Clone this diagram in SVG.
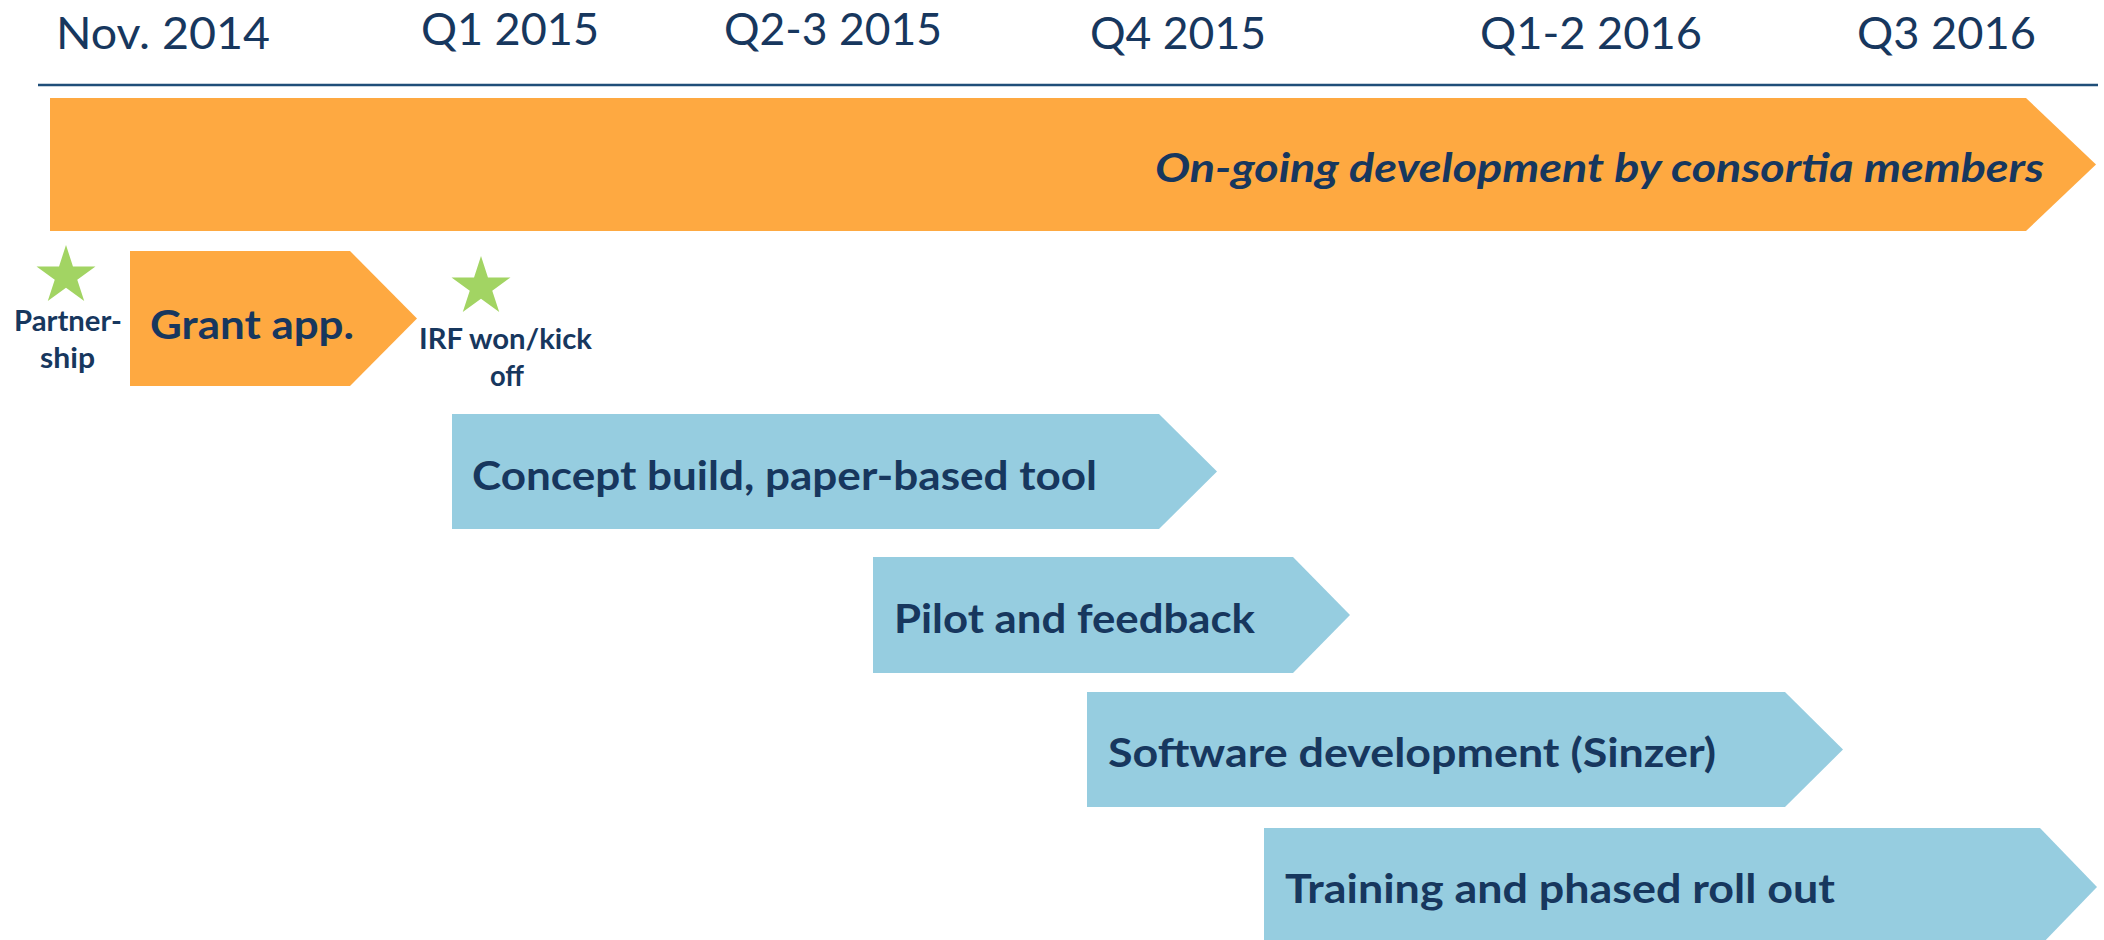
<svg xmlns="http://www.w3.org/2000/svg" xmlns:xlink="http://www.w3.org/1999/xlink" width="2104" height="940" viewBox="0 0 2104 940">
  <style>
    .hdr { font-family: Lato, "Open Sans", "Liberation Sans", sans-serif; font-size: 45px; fill: #17375E; }
    .lbl { font-family: Lato, "Open Sans", "Liberation Sans", sans-serif; font-weight: bold; font-size: 40px; fill: #17375E; }
    .small { font-family: Lato, "Open Sans", "Liberation Sans", sans-serif; font-weight: bold; font-size: 28px; fill: #17375E; }
    .orange { fill: #FEA941; }
    .blue { fill: #96CDE0; }
    .star { fill: #A2D463; }
  </style>
  <defs>
    <path id="star" d="M0,-31 L6.96,-9.58 L29.48,-9.58 L11.26,3.66 L18.22,25.08 L0,11.84 L-18.22,25.08 L-11.26,3.66 L-29.48,-9.58 L-6.96,-9.58 Z"/>
  </defs>
  <rect width="2104" height="940" fill="#FFFFFF"/>

  <!-- period headings -->
  <g id="headings">
    <text class="hdr" x="56" y="49" textLength="214" lengthAdjust="spacingAndGlyphs">Nov. 2014</text>
    <text class="hdr" x="421" y="45" textLength="178" lengthAdjust="spacingAndGlyphs">Q1 2015</text>
    <text class="hdr" x="724" y="45" textLength="218" lengthAdjust="spacingAndGlyphs">Q2-3 2015</text>
    <text class="hdr" x="1090" y="49" textLength="176" lengthAdjust="spacingAndGlyphs">Q4 2015</text>
    <text class="hdr" x="1480" y="49" textLength="222" lengthAdjust="spacingAndGlyphs">Q1-2 2016</text>
    <text class="hdr" x="1857" y="49" textLength="179" lengthAdjust="spacingAndGlyphs">Q3 2016</text>
  </g>

  <!-- time axis -->
  <g id="connectors">
    <line x1="38" y1="85" x2="2098" y2="85" stroke="#1F4E79" stroke-width="2.5"/>
  </g>

  <g id="ongoing">
    <path class="orange" d="M50,98 H2026 L2096,164.5 L2026,231 H50 Z"/>
    <text class="lbl" x="1155" y="182" font-style="italic" textLength="889" lengthAdjust="spacingAndGlyphs">On-going development by consortia members</text>
  </g>

  <g id="partnership">
    <use xlink:href="#star" class="star" x="66" y="276"/>
    <text class="small" x="14" y="331" textLength="108" lengthAdjust="spacingAndGlyphs">Partner-</text>
    <text class="small" x="40" y="368" textLength="55" lengthAdjust="spacingAndGlyphs">ship</text>
  </g>

  <g id="grant">
    <path class="orange" d="M130,251 H350 L417,318.5 L350,386 H130 Z"/>
    <text class="lbl" x="150" y="339" textLength="204" lengthAdjust="spacingAndGlyphs">Grant app.</text>
  </g>

  <g id="kickoff">
    <use xlink:href="#star" class="star" x="481" y="287"/>
    <text class="small" x="419" y="349" textLength="173" lengthAdjust="spacingAndGlyphs">IRF won/kick</text>
    <text class="small" x="490" y="386" textLength="34" lengthAdjust="spacingAndGlyphs">off</text>
  </g>

  <g id="concept">
    <path class="blue" d="M452,414 H1159 L1217,471.5 L1159,529 H452 Z"/>
    <text class="lbl" x="472" y="490" textLength="625" lengthAdjust="spacingAndGlyphs">Concept build, paper-based tool</text>
  </g>

  <g id="pilot">
    <path class="blue" d="M873,557 H1293 L1350,615 L1293,673 H873 Z"/>
    <text class="lbl" x="894" y="633" textLength="361" lengthAdjust="spacingAndGlyphs">Pilot and feedback</text>
  </g>

  <g id="software">
    <path class="blue" d="M1087,692 H1785 L1843,749.5 L1785,807 H1087 Z"/>
    <text class="lbl" x="1108" y="767" textLength="608" lengthAdjust="spacingAndGlyphs">Software development (Sinzer)</text>
  </g>

  <g id="training">
    <path class="blue" d="M1264,828 H2040 L2097,887 L2040,946 H1264 Z"/>
    <text class="lbl" x="1285" y="903" textLength="550" lengthAdjust="spacingAndGlyphs">Training and phased roll out</text>
  </g>
</svg>
